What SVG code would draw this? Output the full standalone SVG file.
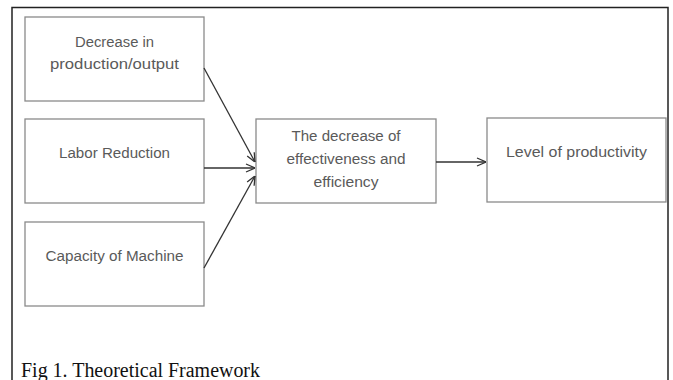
<svg xmlns="http://www.w3.org/2000/svg" width="673" height="380" viewBox="0 0 673 380">
<style>
.box{fill:#fff;stroke:#8a8a8a;stroke-width:1.3}
.lbl{font-family:"Liberation Sans",Arial,sans-serif;font-size:14px;fill:#5a5a5a;text-anchor:middle}
.con{stroke:#333;stroke-width:1.3;fill:none;marker-end:url(#arr)}
.cap{font-family:"Liberation Serif","Times New Roman",serif;font-size:20px;fill:#111}
</style>
<defs>
<marker id="arr" viewBox="0 0 10 10" refX="10" refY="5" markerWidth="10" markerHeight="10" markerUnits="userSpaceOnUse" orient="auto">
<path d="M1,1 L10,5 L1,9" fill="none" stroke="#333" stroke-width="1.3"/>
</marker>
</defs>
<rect x="0" y="0" width="673" height="380" fill="#fff"/>
<path d="M12,385 L12,7.5 L668,7.5 L668,385" fill="none" stroke="#222" stroke-width="1.5"/>
<g id="n1"><rect class="box" x="25" y="17" width="179" height="84"/>
<text class="lbl" x="114.5" y="47" textLength="79" lengthAdjust="spacingAndGlyphs">Decrease in</text>
<text class="lbl" x="114.5" y="69" textLength="129" lengthAdjust="spacingAndGlyphs">production/output</text></g>
<g id="n2"><rect class="box" x="25" y="119" width="179" height="84"/>
<text class="lbl" x="114.5" y="158" textLength="111" lengthAdjust="spacingAndGlyphs">Labor Reduction</text></g>
<g id="n3"><rect class="box" x="25" y="222" width="179" height="84"/>
<text class="lbl" x="114.5" y="261" textLength="138" lengthAdjust="spacingAndGlyphs">Capacity of Machine</text></g>
<g id="n4"><rect class="box" x="256" y="119" width="180" height="84"/>
<text class="lbl" x="346" y="141" textLength="109" lengthAdjust="spacingAndGlyphs">The decrease of</text>
<text class="lbl" x="346" y="164" textLength="119" lengthAdjust="spacingAndGlyphs">effectiveness and</text>
<text class="lbl" x="346" y="187" textLength="65" lengthAdjust="spacingAndGlyphs">efficiency</text></g>
<g id="n5"><rect class="box" x="487" y="118" width="179" height="84"/>
<text class="lbl" x="576.5" y="157" textLength="141" lengthAdjust="spacingAndGlyphs">Level of productivity</text></g>
<g id="connectors">
<line class="con" x1="204" y1="68" x2="255" y2="162"/>
<line class="con" x1="204" y1="168" x2="255" y2="168"/>
<line class="con" x1="204" y1="268" x2="255" y2="176"/>
<line class="con" x1="436" y1="162" x2="486" y2="162"/>
</g>
<text class="cap" x="21" y="377" textLength="239" lengthAdjust="spacingAndGlyphs">Fig 1. Theoretical Framework</text>
</svg>
